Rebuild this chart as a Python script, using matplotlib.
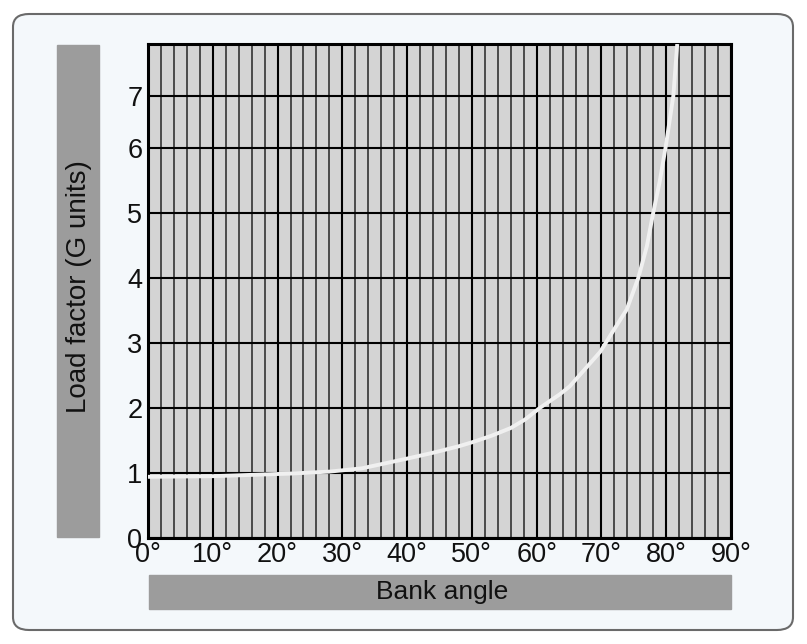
import numpy as np
import matplotlib
matplotlib.use("Agg")
import matplotlib.pyplot as plt
from matplotlib.patches import FancyBboxPatch, Rectangle

# values
bank_angle = [0, 10, 16, 22, 28, 33, 40, 44, 48, 50, 53, 56, 58.2, 60.5, 63.6,
              65.1, 66.7, 69.8, 71.8, 73.9, 75.7, 77.0, 78.0, 79.0, 79.9,
              81.1, 81.7]
load_factor = [0.94, 0.95, 0.97, 0.99, 1.02, 1.07, 1.22, 1.31, 1.41, 1.47, 1.57,
               1.69, 1.82, 2.0, 2.21, 2.33, 2.51, 2.86, 3.18, 3.51, 4.0,
               4.48, 5.0, 5.48, 6.0, 7.0, 8.0]
x_ticks = [0, 10, 20, 30, 40, 50, 60, 70, 80, 90]
x_labels = ['0°', '10°', '20°', '30°', '40°', '50°', '60°', '70°', '80°', '90°']
y_ticks = [0, 1, 2, 3, 4, 5, 6, 7]

plt.rcParams['font.family'] = ['Liberation Sans', 'DejaVu Sans']

W, H = 807, 644
fig = plt.figure(figsize=(W/100, H/100), dpi=100, facecolor='white')

# rounded panel behind everything
panel = FancyBboxPatch((13/W, 14/H), (793-13)/W, (630-14)/H,
                       boxstyle='round,pad=0,rounding_size=0.02',
                       transform=fig.transFigure, facecolor='#f4f8fb',
                       edgecolor='#6a6a6a', lw=1.5, zorder=-2)
fig.patches.append(panel)

# gray label boxes
fig.patches.append(Rectangle((57/W, (644-537)/H), 42/W, (537-45)/H,
                             transform=fig.transFigure, color='#9c9c9c', zorder=-1))
fig.patches.append(Rectangle((149/W, (644-609)/H), (731-149)/W, 34/H,
                             transform=fig.transFigure, color='#9c9c9c', zorder=-1))
fig.text(79/W, 1-287/H, 'Load factor (G units)', rotation=90, ha='center',
         va='center', fontsize=20, color='#111111')
fig.text(442/W, 1-592/H, 'Bank angle', ha='center', va='center',
         fontsize=19, color='#111111')

ax = fig.add_axes([148/W, (644-538)/H, (731-148)/W, (538-44)/H])
ax.set_facecolor('#d4d4d4')

# top segment (6..8) is drawn compressed in the reference
k = 51.7/65.0
def fwd(v):
    v = np.asarray(v, dtype=float)
    return np.where(v <= 6, v, 6 + (v - 6)*k)
def inv(p):
    p = np.asarray(p, dtype=float)
    return np.where(p <= 6, p, 6 + (p - 6)/k)
ax.set_yscale('function', functions=(fwd, inv))

ax.set_xlim(0, 90)
ax.set_ylim(0, 8.0)
ax.set_xticks(x_ticks)
ax.set_xticklabels(x_labels)
ax.set_xticks(np.arange(0, 91, 2), minor=True)
ax.set_yticks(y_ticks)
ax.set_yticklabels([str(v) for v in y_ticks])
ax.yaxis.set_minor_locator(plt.NullLocator())
ax.tick_params(axis='both', which='both', length=0, labelsize=19.5,
               labelcolor='#111111')
ax.tick_params(axis='x', pad=3)
ax.tick_params(axis='y', pad=4)

ax.grid(which='major', axis='both', color='black', lw=1.5)
ax.grid(which='minor', axis='x', color='#4a4a4a', lw=1.4)
ax.set_axisbelow(True)

ax.plot(bank_angle, load_factor, color='#f0f0f0', lw=2.8, zorder=3,
        solid_capstyle='butt', solid_joinstyle='round', clip_on=True)

for s in ax.spines.values():
    s.set_linewidth(2.2)
    s.set_color('black')

fig.savefig('out.png', dpi=100, facecolor='white')
